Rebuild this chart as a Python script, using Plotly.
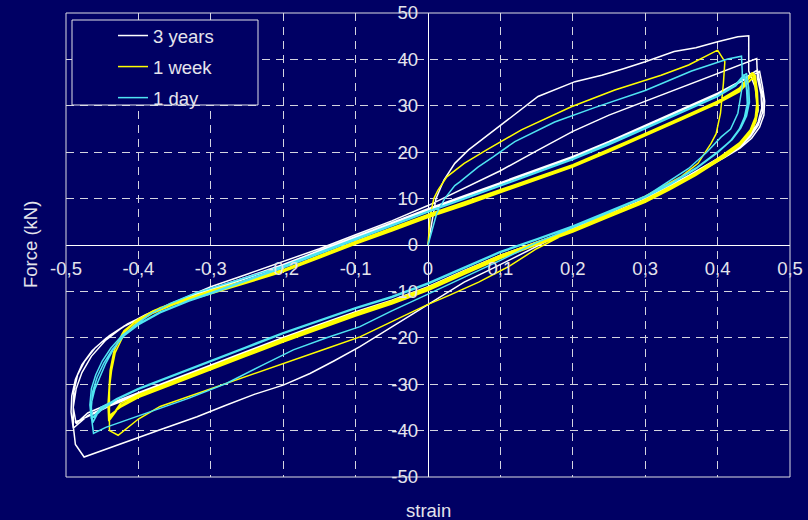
import plotly.graph_objects as go

# ---------------- data (strain, force kN) ----------------
# 3 years (white)
w_virgin = [(0,0),(0.005,5),(0.011,10),(0.022,14),(0.037,17.6),(0.056,20.5),(0.075,22.8),(0.099,25.5),
            (0.125,28.8),(0.152,32),(0.203,35.2),(0.24,36.6),(0.27,38),(0.30,39.5),(0.34,41.7),(0.37,42.5),
            (0.40,43.8),(0.428,44.9),(0.443,45.1)]
w_unload1 = [(0.443,45.1),(0.443,37.5),(0.452,34),(0.456,29),(0.448,24.5),(0.43,21.5),(0.40,18.6),(0.36,15),
             (0.3,10),(0.25,6.7),(0.2,3.6),(0.168,1.1),(0.127,-2.2),(0.09,-5),(0.05,-8),(0,-12.8),(-0.05,-17.5),
             (-0.094,-21.9),(-0.13,-25),(-0.163,-27.7),(-0.2,-30.2),(-0.24,-32.2),(-0.28,-34.6),(-0.319,-37),
             (-0.37,-39.8),(-0.416,-42.4),(-0.462,-44.9),(-0.475,-45.7)]
w_reload1 = [(-0.475,-45.7),(-0.487,-43),(-0.49,-39),(-0.49,-35),(-0.486,-31),(-0.478,-27.5),(-0.465,-24),
             (-0.445,-20.5),(-0.42,-17.5),(-0.39,-15),(-0.35,-12.3),(-0.3,-9),(-0.25,-6.3),(-0.2,-3.6),
             (-0.15,-0.8),(-0.1,2.2),(-0.05,5.2),(0,8.5),(0.05,12.3),(0.1,16),(0.15,20.3),(0.2,24.5),
             (0.25,28),(0.3,31),(0.35,34),(0.4,37),(0.43,38.8),(0.454,40.2)]
w_unloadA = [(0.454,40.2),(0.455,36),(0.46,32.5),(0.461,29.5),(0.456,26.5),(0.446,23.8),(0.43,21.3),(0.41,19.3),
             (0.4,18.4),(0.37,15.6),(0.335,12.6),(0.3,9.8),(0.25,6.6),(0.2,3.4),(0.15,0.6),(0.1,-2.2),(0.05,-5.5),
             (0,-9),(-0.05,-11.9),(-0.1,-14.4),(-0.15,-17.1),(-0.2,-19.9),(-0.25,-22.9),(-0.3,-25.9),(-0.35,-28.9),
             (-0.4,-31.9),(-0.44,-34.2),(-0.47,-36.2),(-0.486,-38.5)]
w_reloadA = [(-0.486,-38.5),(-0.49,-35),(-0.489,-31.5),(-0.484,-28),(-0.474,-25),(-0.46,-22.2),(-0.44,-19.5),
             (-0.415,-17),(-0.38,-14.3),(-0.34,-11.8),(-0.3,-9.5),(-0.25,-6.9),(-0.2,-4.2),(-0.15,-1.2),
             (-0.1,1.8),(-0.05,4.8),(0,7.8),(0.05,10.6),(0.1,13.4),(0.15,16.2),(0.2,19.1),(0.25,22.3),
             (0.3,25.8),(0.35,29.3),(0.4,32.7),(0.43,35.2),(0.455,37.7)]
w_unloadB = [(0.455,37.7),(0.459,34.5),(0.463,31.5),(0.462,28.5),(0.456,25.8),(0.445,23.3),(0.43,21.1),(0.41,19.1),
             (0.4,18.2),(0.37,15.4),(0.335,12.4),(0.3,9.6),(0.25,6.4),(0.2,3.2),(0.15,0.4),(0.1,-2.4),(0.05,-5.7),
             (0,-9.2),(-0.05,-12.1),(-0.1,-14.6),(-0.15,-17.3),(-0.2,-20.1),(-0.25,-23.1),(-0.3,-26.1),
             (-0.35,-29.1),(-0.4,-32.1),(-0.44,-34.5),(-0.47,-36.8),(-0.49,-39.5)]
w_reloadB = [(-0.49,-39.5),(-0.493,-36),(-0.492,-32.5),(-0.487,-29),(-0.478,-25.8),(-0.464,-22.8),(-0.444,-20),
             (-0.418,-17.4),(-0.383,-14.6),(-0.343,-12.1),(-0.3,-9.8),(-0.25,-7.2),(-0.2,-4.5),(-0.15,-1.5),
             (-0.1,1.5),(-0.05,4.5),(0,7.5),(0.05,10.3),(0.1,13.1),(0.15,15.9),(0.2,18.8),(0.25,22),(0.3,25.5),
             (0.35,29),(0.4,32.4),(0.43,35),(0.458,37.4)]
w_unloadC = [(0.458,37.4),(0.462,34.2),(0.465,31),(0.464,28),(0.458,25.4),(0.447,23),(0.431,20.9),(0.41,18.9),
             (0.4,18),(0.37,15.2),(0.335,12.2),(0.3,9.4),(0.25,6.2),(0.2,3),(0.15,0.2),(0.1,-2.6),(0.05,-5.9),
             (0,-9.4),(-0.05,-12.3),(-0.1,-14.8),(-0.15,-17.5),(-0.2,-20.3),(-0.25,-23.3),(-0.3,-26.3),
             (-0.35,-29.3),(-0.4,-32.3),(-0.44,-34.7),(-0.47,-37),(-0.488,-38.2)]

# 1 week (yellow)
y_virgin = [(0,0),(0.003,6.1),(0.008,10),(0.014,11.9),(0.026,14.7),(0.05,17.6),(0.081,20.5),(0.129,24.8),
            (0.198,29.8),(0.258,33.4),(0.322,36.6),(0.36,38.8),(0.40,42)]
y_unload1 = [(0.40,42),(0.41,39.5),(0.408,34.8),(0.404,28.4),(0.398,24),(0.391,21.9),(0.373,17.6),(0.35,14.8),
             (0.3,10.5),(0.25,7),(0.2,3.2),(0.15,-0.8),(0.113,-4.5),(0.07,-8),(0.03,-10.8),(0,-12.8),
             (-0.05,-16.5),(-0.094,-19.8),(-0.14,-22.3),(-0.186,-24.8),(-0.23,-27.3),(-0.278,-29.8),
             (-0.32,-32.2),(-0.37,-34.8),(-0.40,-37.5),(-0.428,-41),(-0.44,-40)]
y_reload1 = [(-0.44,-40),(-0.44,-37),(-0.441,-33),(-0.44,-30.5),(-0.437,-26),(-0.432,-22),(-0.42,-18.5),
             (-0.4,-16),(-0.37,-13.5),(-0.33,-11.3),(-0.3,-9.8),(-0.2,-5.3),(-0.1,0.8),(0,6.6),(0.1,12),
             (0.2,17.3),(0.3,24),(0.4,31),(0.43,33.8),(0.448,37.2)]
y_unloadA = [(0.448,37.2),(0.452,34),(0.454,30.5),(0.452,27.5),(0.445,24.8),(0.43,22),(0.41,19.7),(0.4,18.6),
             (0.37,15.6),(0.335,12.6),(0.3,9.8),(0.25,6.6),(0.2,3.4),(0.15,0.6),(0.1,-2.2),(0.05,-5.6),
             (0,-9.1),(-0.05,-12),(-0.1,-14.6),(-0.15,-17.4),(-0.2,-20.2),(-0.25,-23.2),(-0.3,-26.2),
             (-0.35,-29.2),(-0.4,-32.2),(-0.425,-34.2),(-0.44,-37.6)]
y_reloadA = [(-0.44,-37.6),(-0.441,-34),(-0.44,-30.5),(-0.438,-26.5),(-0.433,-22.5),(-0.422,-19),(-0.405,-16.5),
             (-0.38,-14.2),(-0.35,-12.3),(-0.3,-10),(-0.25,-7.6),(-0.2,-5.3),(-0.15,-2.3),(-0.1,0.7),
             (-0.05,3.5),(0,6.4),(0.05,9),(0.1,11.8),(0.15,14.5),(0.2,17.3),(0.25,20.6),(0.3,24),(0.35,27.5),
             (0.4,31),(0.43,33.5),(0.45,37)]
y_unloadB = [(0.45,37),(0.453,33.5),(0.455,30),(0.452,27),(0.444,24.3),(0.43,21.8),(0.41,19.5),(0.4,18.4),
             (0.37,15.4),(0.335,12.4),(0.3,9.6),(0.25,6.4),(0.2,3.2),(0.15,0.4),(0.1,-2.5),(0.05,-5.9),
             (0,-9.4),(-0.05,-12.3),(-0.1,-14.9),(-0.15,-17.7),(-0.2,-20.5),(-0.25,-23.5),(-0.3,-26.5),
             (-0.35,-29.5),(-0.4,-32.5),(-0.425,-34.6),(-0.441,-38)]
y_reloadB = [(-0.441,-38),(-0.442,-34.5),(-0.441,-31),(-0.439,-27),(-0.434,-23),(-0.423,-19.4),(-0.406,-16.8),
             (-0.38,-14.5),(-0.35,-12.6),(-0.3,-10.3),(-0.25,-7.9),(-0.2,-5.6),(-0.15,-2.6),(-0.1,0.4),
             (-0.05,3.2),(0,6.1),(0.05,8.7),(0.1,11.5),(0.15,14.2),(0.2,17),(0.25,20.3),(0.3,23.7),(0.35,27.2),
             (0.4,30.7),(0.43,33.2),(0.452,36.6)]
y_unloadC = [(0.452,36.6),(0.455,33),(0.456,29.5),(0.453,26.6),(0.445,24),(0.431,21.5),(0.41,19.2),(0.4,18.2),
             (0.37,15.2),(0.335,12.2),(0.3,9.4),(0.25,6.2),(0.2,3),(0.15,0.2),(0.1,-2.7),(0.05,-6.1),
             (0,-9.6),(-0.05,-12.5),(-0.1,-15.1),(-0.15,-17.9),(-0.2,-20.7),(-0.25,-23.7),(-0.3,-26.7),
             (-0.35,-29.7),(-0.4,-32.7),(-0.425,-34.8),(-0.44,-37)]
y_reloadC = [(-0.44,-37),(-0.441,-34),(-0.44,-30.8),(-0.437,-27),(-0.432,-23.2),(-0.421,-19.6),(-0.404,-17),
             (-0.38,-14.7),(-0.35,-12.8),(-0.3,-10.5),(-0.25,-8.1),(-0.2,-5.8),(-0.15,-2.8),(-0.1,0.2),
             (-0.05,3),(0,5.9),(0.05,8.5),(0.1,11.3),(0.15,14),(0.2,16.8),(0.25,20.1),(0.3,23.5),(0.35,27),
             (0.4,30.5),(0.43,33),(0.45,36.2)]
y_unloadD = [(0.45,36.2),(0.454,32.5),(0.455,29),(0.451,26.2),(0.443,23.7),(0.43,21.3),(0.41,19),(0.4,18),
             (0.37,15),(0.335,12),(0.3,9.2),(0.25,6),(0.2,2.8),(0.15,0),(0.1,-2.9),(0.05,-6.3),(0,-9.8),
             (-0.05,-12.7),(-0.1,-15.3),(-0.15,-18.1),(-0.2,-20.9),(-0.25,-23.9),(-0.3,-26.9),(-0.35,-29.9),
             (-0.4,-32.9),(-0.425,-35),(-0.439,-36.6)]

# 1 day (cyan)
c_virgin = [(0,0),(0.006,3.5),(0.012,6.8),(0.023,10),(0.037,12.8),(0.044,13.6),(0.069,16.8),(0.09,19),
            (0.12,22.3),(0.175,26.5),(0.23,29.6),(0.3,33.3),(0.364,37.5),(0.414,40.1),(0.433,40.7)]
c_unload1 = [(0.433,40.7),(0.434,37.5),(0.434,34.1),(0.428,28.4),(0.418,25),(0.405,23.3),(0.385,20),(0.36,16.5),
             (0.3,10.4),(0.25,7),(0.2,3.8),(0.15,0.5),(0.1,-3.3),(0.05,-7),(0,-10.6),(-0.05,-14.2),
             (-0.094,-17.6),(-0.14,-20),(-0.186,-22.6),(-0.23,-26),(-0.278,-29.8),(-0.33,-33),(-0.38,-35.8),
             (-0.416,-37.7),(-0.445,-39.3),(-0.462,-40.6)]
c_reload1 = [(-0.462,-40.6),(-0.465,-37),(-0.465,-34.1),(-0.46,-31),(-0.453,-28.4),(-0.445,-25.5),(-0.435,-22.6),
             (-0.423,-20),(-0.407,-17.6),(-0.385,-15),(-0.356,-12.6),(-0.32,-10.3),(-0.278,-8.3),(-0.2,-4.5),
             (-0.1,1.4),(0,7.3),(0.1,12.8),(0.2,18.6),(0.3,25.3),(0.4,32.2),(0.425,34.6),(0.437,36.8)]
c_unloadA = [(0.437,36.8),(0.44,33.5),(0.441,30.5),(0.437,27.5),(0.43,25),(0.418,22.5),(0.4,20),(0.37,16.5),
             (0.335,13.2),(0.3,10.4),(0.25,7.2),(0.2,4),(0.15,1.2),(0.1,-1.5),(0.05,-4.9),(0,-8.3),
             (-0.05,-11.2),(-0.1,-13.6),(-0.15,-16.3),(-0.2,-19),(-0.25,-22),(-0.3,-25),(-0.35,-28),
             (-0.4,-31),(-0.43,-33.2),(-0.452,-35),(-0.463,-38.3)]
c_reloadA = [(-0.463,-38.3),(-0.465,-35),(-0.463,-31.5),(-0.457,-28.5),(-0.448,-25.5),(-0.436,-22.5),(-0.42,-19.6),
             (-0.4,-17.2),(-0.37,-14.6),(-0.33,-12.1),(-0.3,-10.5),(-0.25,-7.7),(-0.2,-4.9),(-0.15,-1.9),
             (-0.1,1.1),(-0.05,4.1),(0,7.1),(0.05,9.9),(0.1,12.7),(0.15,15.5),(0.2,18.4),(0.25,21.6),
             (0.3,25.1),(0.35,28.6),(0.4,32),(0.425,34.3),(0.44,37)]
c_unloadB = [(0.44,37),(0.443,33.8),(0.444,30.8),(0.44,27.8),(0.432,25.2),(0.42,22.7),(0.4,20.1),(0.37,16.6),
             (0.335,13.3),(0.3,10.5),(0.25,7.3),(0.2,4.1),(0.15,1.3),(0.1,-1.4),(0.05,-4.8),(0,-8.2),
             (-0.05,-11.1),(-0.1,-13.5),(-0.15,-16.2),(-0.2,-18.9),(-0.25,-21.9),(-0.3,-24.9),(-0.35,-27.9),
             (-0.4,-30.9),(-0.43,-33.1),(-0.452,-35.2),(-0.465,-37.5)]
c_reloadB = [(-0.465,-37.5),(-0.467,-34.5),(-0.465,-31),(-0.459,-28),(-0.45,-25),(-0.438,-22.2),(-0.422,-19.4),
             (-0.4,-17),(-0.37,-14.4),(-0.33,-11.9),(-0.3,-10.3),(-0.25,-7.5),(-0.2,-4.7),(-0.15,-1.7),
             (-0.1,1.3),(-0.05,4.3),(0,7.3),(0.05,10.1),(0.1,12.9),(0.15,15.7),(0.2,18.6),(0.25,21.8),
             (0.3,25.3),(0.35,28.8),(0.4,32.2),(0.425,34.5),(0.438,36.4)]
c_unloadC = [(0.438,36.4),(0.441,33.3),(0.442,30.3),(0.438,27.4),(0.43,24.9),(0.418,22.4),(0.4,19.9),(0.37,16.4),
             (0.335,13.1),(0.3,10.3),(0.25,7.1),(0.2,3.9),(0.15,1.1),(0.1,-1.6),(0.05,-5),(0,-8.4),
             (-0.05,-11.3),(-0.1,-13.7),(-0.15,-16.4),(-0.2,-19.1),(-0.25,-22.1),(-0.3,-25.1),(-0.35,-28.1),
             (-0.4,-31.1),(-0.43,-33.3),(-0.45,-35.4),(-0.462,-37.2)]

series_names = ["3 years", "1 week", "1 day"]
series_colors = ["#ffffff", "#ffff00", "#4fe4f2"]
series_branches = [
    [w_virgin, w_unload1, w_reload1, w_unloadA, w_reloadA, w_unloadB, w_reloadB, w_unloadC],
    [y_virgin, y_unload1, y_reload1, y_unloadA, y_reloadA, y_unloadB, y_reloadB, y_unloadC, y_reloadC, y_unloadD],
    [c_virgin, c_unload1, c_reload1, c_unloadA, c_reloadA, c_unloadB, c_reloadB, c_unloadC],
]

x_tickvals = [-0.5, -0.4, -0.3, -0.2, -0.1, 0, 0.1, 0.2, 0.3, 0.4, 0.5]
x_ticktext = ["-0,5", "-0,4", "-0,3", "-0,2", "-0,1", "0", "0,1", "0,2", "0,3", "0,4", "0,5"]
y_tickvals = [-50, -40, -30, -20, -10, 0, 10, 20, 30, 40, 50]
y_ticktext = ["-50", "-40", "-30", "-20", "-10", "0", "10", "20", "30", "40", "50"]

# ---------------- figure ----------------
BG = "#000064"
TXT = "#e4e4ec"
FONT = "Liberation Sans, Arial, sans-serif"

fig = go.Figure()
for name, color, branches in zip(series_names, series_colors, series_branches):
    xs, ys = [], []
    for br in branches:
        for (sx, fy) in br:
            xs.append(sx)
            ys.append(fy)
    fig.add_trace(go.Scatter(x=xs, y=ys, mode="lines", name=name, legendgroup=name,
                             line=dict(color=color, width=1.5)))

W, H = 808, 520
L, R, T, B = 66, 18, 13, 43
pw, ph = W - L - R, H - T - B

def px2paper_x(p):
    return (p - L) / pw

def px2paper_y(p):
    return (H - B - p) / ph

grid = dict(showgrid=True, gridcolor="#d4d4e0", gridwidth=1, griddash="8px,6px",
            zeroline=True, zerolinecolor="#ffffff", zerolinewidth=1, automargin=False,
            showline=False, ticks="", tickfont=dict(family=FONT, size=18.5, color=TXT))

fig.update_layout(
    width=W, height=H,
    margin=dict(l=L, r=R, t=T, b=B, pad=0, autoexpand=False),
    paper_bgcolor=BG, plot_bgcolor=BG,
    font=dict(family=FONT, size=18.5, color=TXT),
    xaxis=dict(range=[-0.5, 0.5], tickvals=x_tickvals, ticktext=x_ticktext,
               anchor="free", position=0.5, ticklabelstandoff=10, **grid),
    yaxis=dict(range=[-50, 50], tickvals=y_tickvals, ticktext=y_ticktext,
               anchor="free", position=0.5, ticklabelstandoff=10, **grid),
    showlegend=True,
    legend=dict(x=px2paper_x(113), xanchor="left", y=px2paper_y(17), yanchor="top",
                bgcolor="rgba(0,0,0,0)", borderwidth=0, traceorder="grouped",
                tracegroupgap=4, font=dict(family=FONT, size=18.5, color=TXT)),
    shapes=[
        dict(type="rect", xref="paper", yref="paper", x0=0, x1=1, y0=0, y1=1,
             line=dict(color="#dcdce4", width=1), layer="above"),
        dict(type="rect", xref="paper", yref="paper",
             x0=px2paper_x(72), x1=px2paper_x(258), y0=px2paper_y(105), y1=px2paper_y(20),
             line=dict(color="#e0e0e8", width=1), fillcolor=BG, layer="above"),
    ],
    annotations=[
        dict(text="Force (kN)", xref="paper", yref="paper", x=px2paper_x(30), y=px2paper_y(245),
             xanchor="center", yanchor="middle", textangle=-90, showarrow=False,
             font=dict(family=FONT, size=18.5, color=TXT)),
        dict(text="strain", xref="paper", yref="paper", x=px2paper_x(428), y=px2paper_y(510),
             xanchor="center", yanchor="middle", showarrow=False,
             font=dict(family=FONT, size=18.5, color=TXT)),
    ],
)

fig.write_html("out.html")
